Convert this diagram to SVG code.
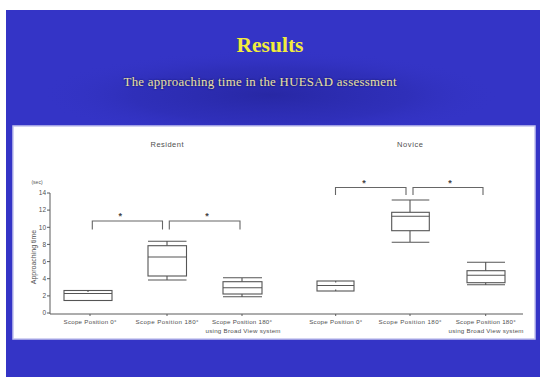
<svg xmlns="http://www.w3.org/2000/svg" width="540" height="377" viewBox="0 0 540 377">
<defs>
<radialGradient id="shade" cx="0.5" cy="0.5" r="0.5">
<stop offset="0" stop-color="#1f1f8e" stop-opacity="0.6"/>
<stop offset="0.6" stop-color="#24249c" stop-opacity="0.3"/>
<stop offset="1" stop-color="#3434c6" stop-opacity="0"/>
</radialGradient>
<filter id="glow" x="-10%" y="-50%" width="120%" height="200%">
<feGaussianBlur stdDeviation="1.2"/>
</filter>
</defs>
<style>
.ln{fill:none;stroke:#5a5a5a;stroke-width:1}
.bx{fill:none;stroke:#555;stroke-width:1.1}
.br{fill:none;stroke:#666;stroke-width:1.1}
.lab{font-family:"Liberation Sans",Arial,sans-serif;font-size:6.2px;fill:#505050;text-anchor:middle}
.tk{font-family:"Liberation Sans",Arial,sans-serif;font-size:6.5px;fill:#505050;text-anchor:end}
.hd{font-family:"Liberation Sans",Arial,sans-serif;font-size:7.5px;fill:#505050;text-anchor:middle}
.st{font-family:"Liberation Sans",Arial,sans-serif;font-size:9px;fill:#444;text-anchor:middle;font-weight:bold}
</style>
<rect x="0" y="0" width="540" height="377" fill="#ffffff"/>
<rect x="6" y="10" width="534" height="367" fill="#3434c6"/>
<ellipse cx="270" cy="95" rx="230" ry="45" fill="url(#shade)"/>
<g id="title">
<text x="270" y="52" text-anchor="middle" font-family="'Liberation Serif','Times New Roman',serif" font-weight="bold" font-size="21.5" fill="#f2ec3c">Results</text>
</g>
<g id="subtitle">
<text x="260" y="86" text-anchor="middle" font-family="'Liberation Serif','Times New Roman',serif" font-size="12.8" fill="#1a1a50" filter="url(#glow)" textLength="273">The approaching time in the HUESAD assessment</text>
<text x="260" y="86" text-anchor="middle" font-family="'Liberation Serif','Times New Roman',serif" font-size="12.8" fill="#e8e0a6" textLength="273">The approaching time in the HUESAD assessment</text>
</g>
<g id="panel">
<rect x="13" y="126" width="522" height="213" fill="#ffffff" stroke="#c4c4ee" stroke-width="1.5"/>
</g>
<g id="axes">
<text class="hd" x="167" y="147" textLength="33">Resident</text>
<text class="hd" x="410" y="147" textLength="26">Novice</text>
<text x="37" y="184" font-family="'Liberation Sans',Arial,sans-serif" font-size="5" fill="#555" text-anchor="middle">(sec)</text>
<text transform="translate(36,257) rotate(-90)" font-family="'Liberation Sans',Arial,sans-serif" font-size="7" fill="#505050" text-anchor="middle">Approaching time</text>
<path class="ln" d="M50,193 V314 H523"/>
<path class="ln" d="M47,193 H50 M47,210.1 H50 M47,227.3 H50 M47,244.4 H50 M47,261.6 H50 M47,278.7 H50 M47,295.9 H50 M47,313 H50"/>
<text class="tk" x="46" y="195.3">14</text>
<text class="tk" x="46" y="212.4">12</text>
<text class="tk" x="46" y="229.6">10</text>
<text class="tk" x="46" y="246.7">8</text>
<text class="tk" x="46" y="263.9">6</text>
<text class="tk" x="46" y="281">4</text>
<text class="tk" x="46" y="298.2">2</text>
<text class="tk" x="46" y="315.3">0</text>
<path class="ln" d="M90,314 V316 M167,314 V316 M242,314 V316 M335.7,314 V316 M410,314 V316 M485.7,314 V316"/>
<text class="lab" x="90" y="324" textLength="53">Scope Position 0°</text>
<text class="lab" x="167" y="324" textLength="63">Scope Position 180°</text>
<text class="lab" x="242" y="324" textLength="60">Scope Position 180°</text>
<text class="lab" x="243" y="332.5" textLength="75">using Broad View system</text>
<text class="lab" x="335.7" y="324" textLength="53">Scope Position 0°</text>
<text class="lab" x="410" y="324" textLength="63">Scope Position 180°</text>
<text class="lab" x="485.7" y="324" textLength="60">Scope Position 180°</text>
<text class="lab" x="486" y="332.5" textLength="75">using Broad View system</text>
</g>
<g id="res-pos0">
<rect class="bx" x="64" y="290.5" width="48" height="10"/>
<path class="bx" d="M64,293.5 H112 M88,290.5 V292"/>
</g>
<g id="res-pos180">
<path class="bx" d="M148,241.3 H186.5 M148,280 H186.5 M167,241.3 V245.7 M167,276 V280"/>
<rect class="bx" x="148" y="245.7" width="38.5" height="30.3"/>
<path class="bx" d="M148,257 H186.5"/>
</g>
<g id="res-pos180bv">
<path class="bx" d="M223,277.7 H262 M223,296.7 H262 M242,277.7 V281.7 M242,294 V296.7"/>
<rect class="bx" x="223" y="281.7" width="39" height="12.3"/>
<path class="bx" d="M223,287.7 H262"/>
</g>
<g id="nov-pos0">
<rect class="bx" x="317" y="281" width="37" height="10"/>
<path class="bx" d="M317,285.5 H354 M335.7,281 V282.5 M335.7,289.5 V291"/>
</g>
<g id="nov-pos180">
<path class="bx" d="M391.7,200 H429.3 M391.7,242.3 H429.3 M410,200 V212.3 M410,230.7 V242.3"/>
<rect class="bx" x="391.7" y="212.3" width="37.6" height="18.4"/>
<path class="bx" d="M391.7,216.3 H429.3"/>
</g>
<g id="nov-pos180bv">
<path class="bx" d="M467,262.3 H505 M467,284.7 H505 M485.7,262.3 V270.7 M485.7,282.7 V284.7"/>
<rect class="bx" x="467" y="270.7" width="38" height="12"/>
<path class="bx" d="M467,275.3 H505"/>
</g>
<g id="connectors">
<path class="br" d="M92.3,229.5 V221 H162.5 V229.5"/>
<path class="br" d="M169.3,229.5 V221 H240 V229.5"/>
<path class="br" d="M335.5,195 V187.5 H406 V195"/>
<path class="br" d="M413,195 V187.5 H483 V195"/>
<text class="st" x="120.3" y="218.5">*</text>
<text class="st" x="207" y="218.5">*</text>
<text class="st" x="364" y="185.5">*</text>
<text class="st" x="450" y="185.5">*</text>
</g>
</svg>
